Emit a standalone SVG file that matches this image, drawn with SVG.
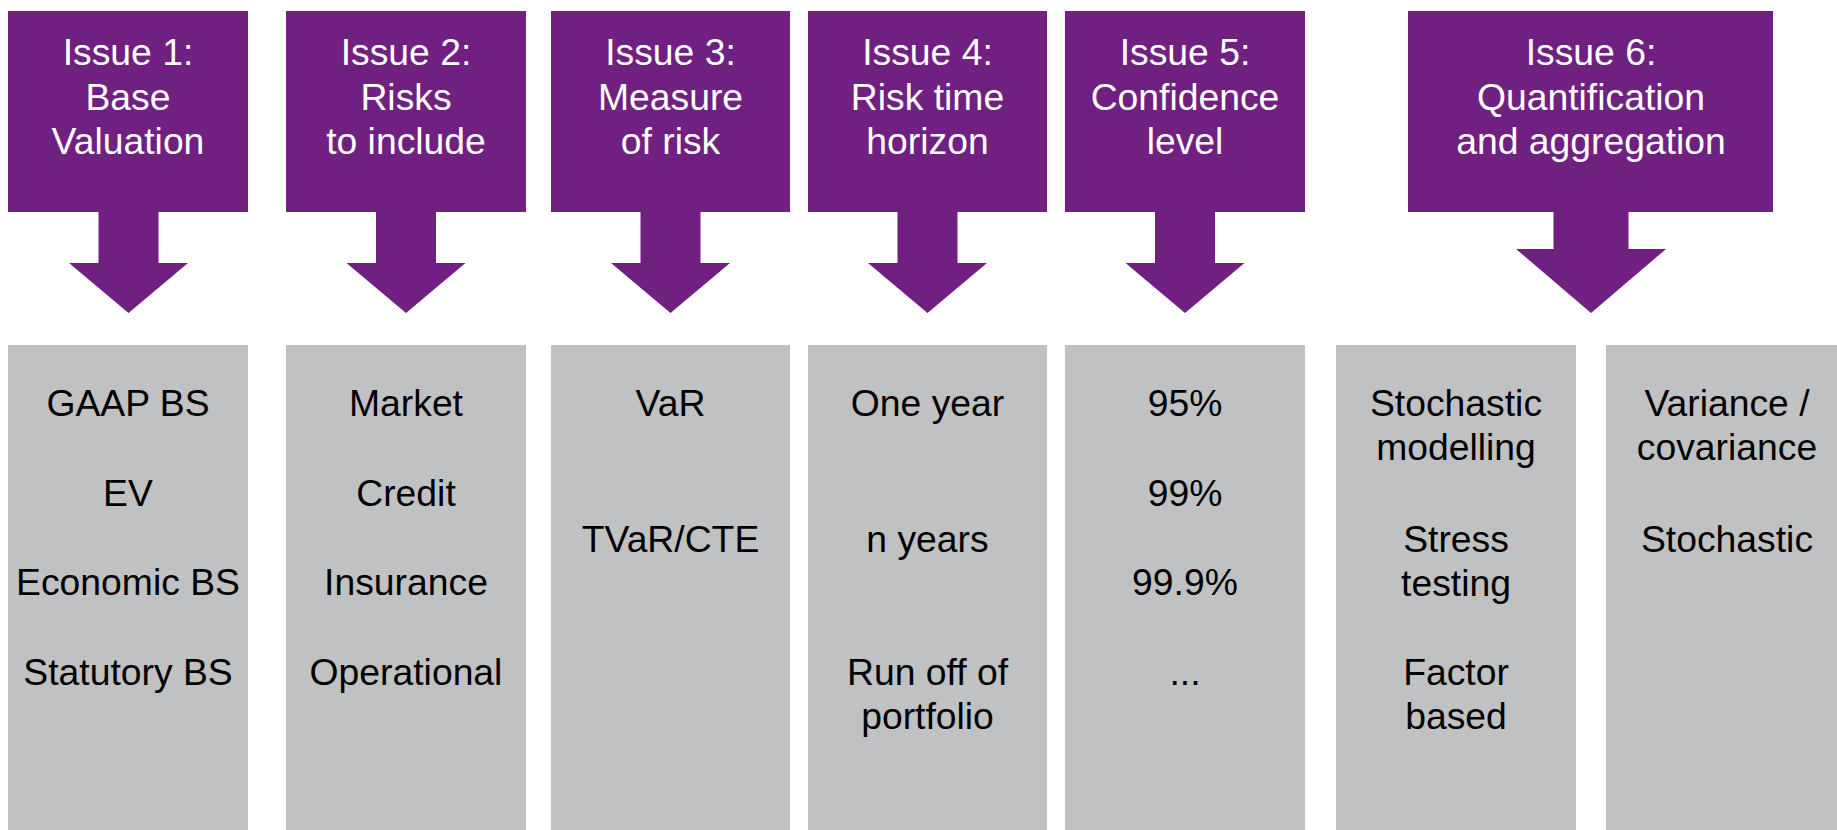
<svg xmlns="http://www.w3.org/2000/svg" width="1837" height="830" viewBox="0 0 1837 830">
<style>
.hdr{fill:#6F2080}
.arr{fill:#6F2080}
.col{fill:#C0C1C3}
.ht{font-family:"Liberation Sans",Arial,sans-serif;font-size:37.3px;fill:#FFFFFF;text-anchor:middle}
.bt{font-family:"Liberation Sans",Arial,sans-serif;font-size:37.3px;fill:#000000;text-anchor:middle}
</style>
<rect width="1837" height="830" fill="#FFFFFF"/>
<g id="issue1"><rect class="hdr" x="8" y="11" width="240" height="201"/>
<text class="ht" x="128" y="65">Issue 1:</text><text class="ht" x="128" y="110">Base</text><text class="ht" x="128" y="154">Valuation</text></g>
<g id="issue2"><rect class="hdr" x="286" y="11" width="240" height="201"/>
<text class="ht" x="406" y="65">Issue 2:</text><text class="ht" x="406" y="110">Risks</text><text class="ht" x="406" y="154">to include</text></g>
<g id="issue3"><rect class="hdr" x="551" y="11" width="239" height="201"/>
<text class="ht" x="670.5" y="65">Issue 3:</text><text class="ht" x="670.5" y="110">Measure</text><text class="ht" x="670.5" y="154">of risk</text></g>
<g id="issue4"><rect class="hdr" x="808" y="11" width="239" height="201"/>
<text class="ht" x="927.5" y="65">Issue 4:</text><text class="ht" x="927.5" y="110">Risk time</text><text class="ht" x="927.5" y="154">horizon</text></g>
<g id="issue5"><rect class="hdr" x="1065" y="11" width="240" height="201"/>
<text class="ht" x="1185" y="65">Issue 5:</text><text class="ht" x="1185" y="110">Confidence</text><text class="ht" x="1185" y="154">level</text></g>
<g id="issue6"><rect class="hdr" x="1408" y="11" width="365" height="201"/>
<text class="ht" x="1591" y="65">Issue 6:</text><text class="ht" x="1591" y="110">Quantification</text><text class="ht" x="1591" y="154">and aggregation</text></g>
<g id="connectors">
<path class="arr" d="M98.5 211 H158.5 V263 H188 L128.5 313 L69 263 H98.5 Z"/>
<path class="arr" d="M376 211 H436 V263 H465.5 L406 313 L346.5 263 H376 Z"/>
<path class="arr" d="M640.5 211 H700.5 V263 H730 L670.5 313 L611 263 H640.5 Z"/>
<path class="arr" d="M897.5 211 H957.5 V263 H987 L927.5 313 L868 263 H897.5 Z"/>
<path class="arr" d="M1155 211 H1215 V263 H1244.5 L1185 313 L1125.5 263 H1155 Z"/>
<path class="arr" d="M1553.5 211 H1628.5 V249 H1666 L1591 313 L1516 249 H1553.5 Z"/>
</g>
<g id="col1"><rect class="col" x="8" y="345" width="240" height="485"/>
<text class="bt" x="128" y="416">GAAP BS</text><text class="bt" x="128" y="506">EV</text><text class="bt" x="128" y="595">Economic BS</text><text class="bt" x="128" y="685">Statutory BS</text></g>
<g id="col2"><rect class="col" x="286" y="345" width="240" height="485"/>
<text class="bt" x="406" y="416">Market</text><text class="bt" x="406" y="506">Credit</text><text class="bt" x="406" y="595">Insurance</text><text class="bt" x="406" y="685">Operational</text></g>
<g id="col3"><rect class="col" x="551" y="345" width="239" height="485"/>
<text class="bt" x="670.5" y="416">VaR</text><text class="bt" x="670.5" y="552">TVaR/CTE</text></g>
<g id="col4"><rect class="col" x="808" y="345" width="239" height="485"/>
<text class="bt" x="927.5" y="416">One year</text><text class="bt" x="927.5" y="552">n years</text><text class="bt" x="927.5" y="685">Run off of</text><text class="bt" x="927.5" y="729">portfolio</text></g>
<g id="col5"><rect class="col" x="1065" y="345" width="240" height="485"/>
<text class="bt" x="1185" y="416">95%</text><text class="bt" x="1185" y="506">99%</text><text class="bt" x="1185" y="595">99.9%</text><text class="bt" x="1185" y="685">...</text></g>
<g id="col6"><rect class="col" x="1336" y="345" width="240" height="485"/>
<text class="bt" x="1456" y="416">Stochastic</text><text class="bt" x="1456" y="460">modelling</text><text class="bt" x="1456" y="552">Stress</text><text class="bt" x="1456" y="596">testing</text><text class="bt" x="1456" y="685">Factor</text><text class="bt" x="1456" y="729">based</text></g>
<g id="col7"><rect class="col" x="1606" y="345" width="231" height="485"/>
<text class="bt" x="1727" y="416">Variance /</text><text class="bt" x="1727" y="460">covariance</text><text class="bt" x="1727" y="552">Stochastic</text></g>
</svg>
